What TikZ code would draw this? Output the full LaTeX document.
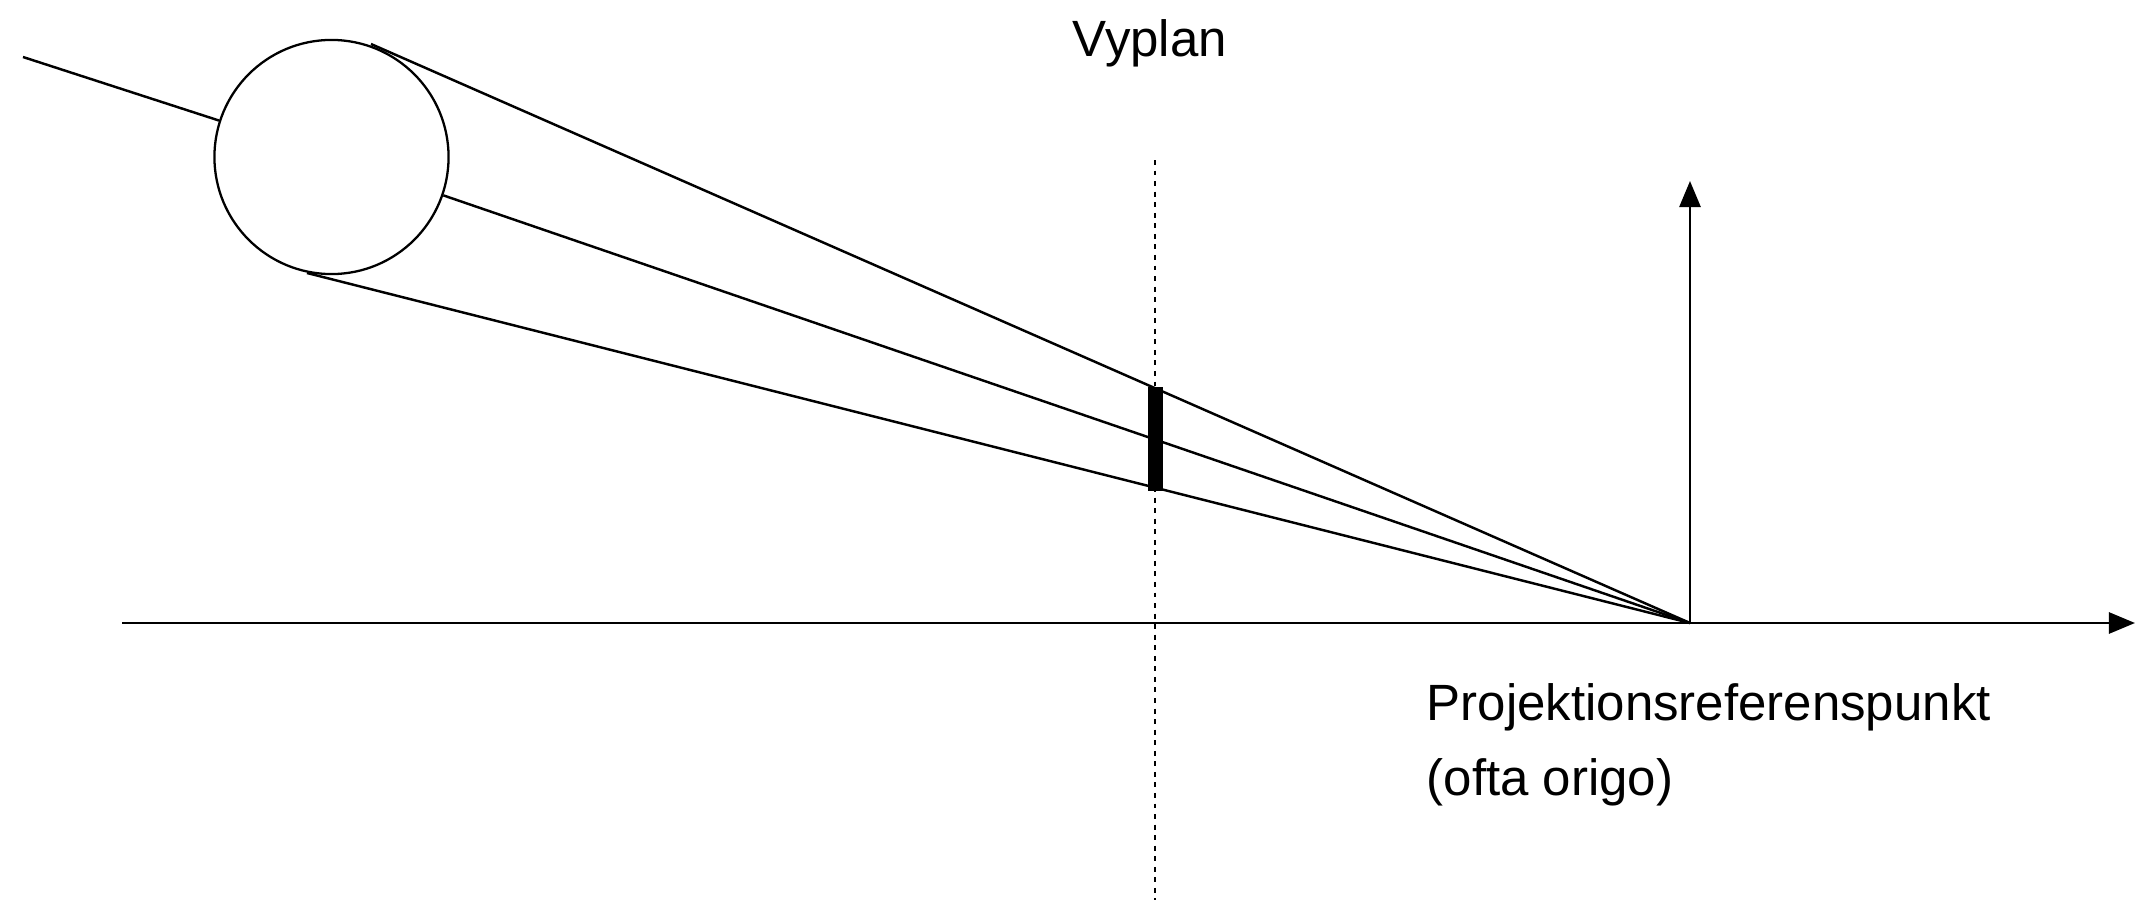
\documentclass[tikz,border=0pt]{standalone}
\usepackage{fontspec}
\setmainfont{Liberation Sans}
\usepackage{tikz}
\usetikzlibrary{arrows.meta,positioning}

\begin{document}
\begin{tikzpicture}[
  x=0.01cm, y=-0.01cm,
  ray/.style={line width=0.7pt},
  axis/.style={line width=0.75pt, -{Triangle[length=2.6mm, width=2.1mm]}},
  viewplane/.style={line width=0.65pt, dash pattern=on 1.4pt off 1.6pt},
  lbl/.style={inner sep=0pt, font=\fontsize{14.5pt}{17pt}\selectfont}
]
\useasboundingbox (0,0) rectangle (2138,900);

% reference point and object
\coordinate (prp) at (1690,623);
\node[draw, circle, line width=0.65pt, inner sep=0pt, minimum size=2.34cm] (obj) at (331.5,157) {};
\coordinate (far) at (23,57);
\coordinate (toptan) at (371,44);
\coordinate (bottan) at (307,273);

% axes
\coordinate (xstart) at (122,623);
\coordinate (xend) at (2135,623);
\coordinate (yend) at (1690,181);
\draw[axis] (xstart) -- (xend);
\draw[axis] (prp) -- (yend);

% view plane
\coordinate (vptop) at (1155,160);
\coordinate (vpbot) at (1155,900);
\draw[viewplane] (vptop) -- (vpbot);

% projection rays
\draw[ray] (far) -- (obj);
\draw[ray] (obj) -- (prp);
\draw[ray] (toptan) -- (prp);
\draw[ray] (bottan) -- (prp);

% projected image
\fill (1148,387) rectangle (1163,491);

% labels
\node[lbl, anchor=base] (vyplan) at (1150,57) {Vyplan};
\node[lbl, anchor=base west] (prplabel) at (1426,720) {Projektionsreferenspunkt};
\node[lbl, anchor=base west] (prpnote) at (1426,795) {(ofta origo)};

\end{tikzpicture}
\end{document}
